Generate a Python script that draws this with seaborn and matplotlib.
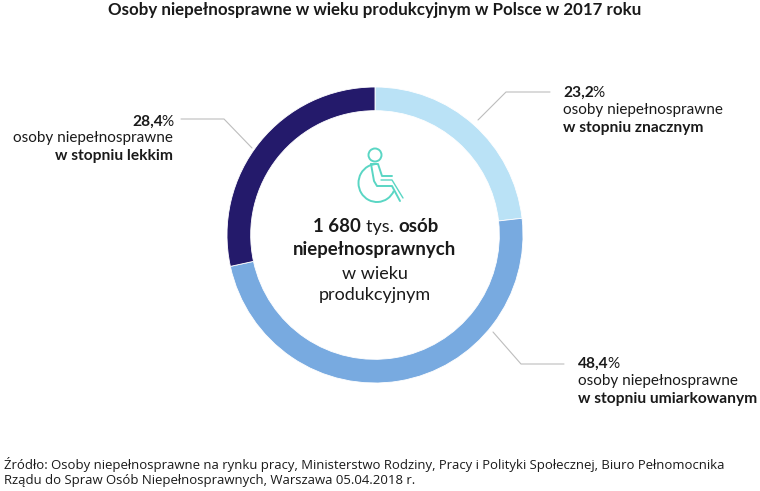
import matplotlib
matplotlib.use('Agg')
import matplotlib.pyplot as plt
from matplotlib.lines import Line2D
from matplotlib.patches import Circle, Arc
import seaborn as sns

# data
categories = ['w stopniu znacznym', 'w stopniu umiarkowanym', 'w stopniu lekkim']
shares = [23.2, 48.4, 28.4]
share_labels = ['23,2', '48,4', '28,4']
colors = ['#bae2f6', '#78aae0', '#241a6b']
title = 'Osoby niepełnosprawne w wieku produkcyjnym w Polsce w 2017 roku'
source = ['Źródło: Osoby niepełnosprawne na rynku pracy, Ministerstwo Rodziny, Pracy i Polityki Społecznej, Biuro Pełnomocnika',
          'Rządu do Spraw Osób Niepełnosprawnych, Warszawa 05.04.2018 r.']
common = 'osoby niepełnosprawne'

sns.set_theme(style='white')
plt.rcParams['font.family'] = ['Lato', 'DejaVu Sans']

W, H = 760, 491
TXT = '#1a1a1a'
fig = plt.figure(figsize=(W / 100, H / 100), dpi=100)

def fx(x):
    return x / W

def fy(y):
    return 1 - y / H

# donut
cx, cy, R = 375, 235, 148
ax = fig.add_axes([fx(cx - R), fy(cy + R), 2 * R / W, 2 * R / H])
ax.pie(shares, colors=sns.color_palette(colors), startangle=90, counterclock=False,
       radius=1, wedgeprops=dict(width=0.16, edgecolor='white', linewidth=0.6))
ax.set_xlim(-1, 1)
ax.set_ylim(-1, 1)
ax.axis('off')

def width_of(parts):
    rend = fig.canvas.get_renderer()
    tot = 0
    for s, w, size in parts:
        t = fig.text(0, 0, s, fontsize=size, fontweight=w)
        tot += t.get_window_extent(rend).width - 1.5
        if s.endswith(' '):
            tot += size * 0.12
        t.remove()
    return tot

def runs(x_left, y, parts):
    # pieces of one line with different weights, left to right
    x = x_left
    for s, w, size in parts:
        fig.text(fx(x), fy(y), s, fontsize=size, fontweight=w, color=TXT, va='baseline', ha='left')
        x += width_of([(s, w, size)])

fig.text(fx(375), fy(15.5), title, fontsize=12.2, fontweight='bold', color=TXT, ha='center', va='baseline')

# centre text
CS = 13
CB = 13.4
parts = [('1 680 ', 'bold', CB), ('tys. ', 'normal', CS), ('osób', 'bold', CB)]
runs(375 - width_of(parts) / 2, 232, parts)
fig.text(fx(375), fy(255), 'niepełnosprawnych', fontsize=CB, fontweight='bold', color=TXT, ha='center')
fig.text(fx(375), fy(279), 'w wieku', fontsize=CS, color=TXT, ha='center')
fig.text(fx(375), fy(300), 'produkcyjnym', fontsize=CS, color=TXT, ha='center')

# labels right
LS = 11
LB = 11.2
runs(563, 97, [(share_labels[0], 'bold', LB), ('%', 'normal', LS)])
fig.text(fx(563), fy(114), common, fontsize=LS, color=TXT)
fig.text(fx(563), fy(132), categories[0], fontsize=LB, fontweight='bold', color=TXT)

runs(578, 368, [(share_labels[1], 'bold', LB), ('%', 'normal', LS)])
fig.text(fx(578), fy(385), common, fontsize=LS, color=TXT)
fig.text(fx(578), fy(403), categories[1], fontsize=LB, fontweight='bold', color=TXT)

# label left, right aligned
p = [(share_labels[2], 'bold', LB), ('%', 'normal', LS)]
runs(172 - width_of(p), 126, p)
fig.text(fx(173), fy(142), common, fontsize=LS, color=TXT, ha='right')
fig.text(fx(173), fy(160), categories[2], fontsize=LB, fontweight='bold', color=TXT, ha='right')

# leader lines
leaders = [([478, 506, 550], [120, 92, 92]),
           ([493, 521, 564], [332, 364, 364]),
           ([181, 224, 252], [119, 119, 148])]
for xs, ys in leaders:
    fig.add_artist(Line2D([fx(v) for v in xs], [fy(v) for v in ys], color='#bdbdbd', lw=0.8))

# wheelchair icon, drawn on a pixel overlay
ov = fig.add_axes([0, 0, 1, 1], zorder=5)
ov.set_xlim(0, W)
ov.set_ylim(H, 0)
ov.axis('off')
ov.patch.set_alpha(0)
teal = '#5ad6c4'
ov.add_patch(Circle((375, 155), 6.5, fill=False, ec=teal, lw=1.4))
ov.add_patch(Arc((377, 183), 37, 38, theta1=25, theta2=272, ec=teal, lw=1.4))
ov.plot([371, 378, 382, 392], [164, 164, 176, 176], color=teal, lw=1.4)
ov.plot([371, 374, 377, 392, 400], [164, 181, 186, 186, 201], color=teal, lw=1.4)
ov.plot([381, 392, 403], [180, 180, 198], color=teal, lw=1.0)

# source
fig.text(fx(4), fy(469), source[0], fontsize=9.47, family='Open Sans', color=TXT)
fig.text(fx(4), fy(484), source[1], fontsize=9.47, family='Open Sans', color=TXT)

fig.savefig('out.png', dpi=100, facecolor='white')
